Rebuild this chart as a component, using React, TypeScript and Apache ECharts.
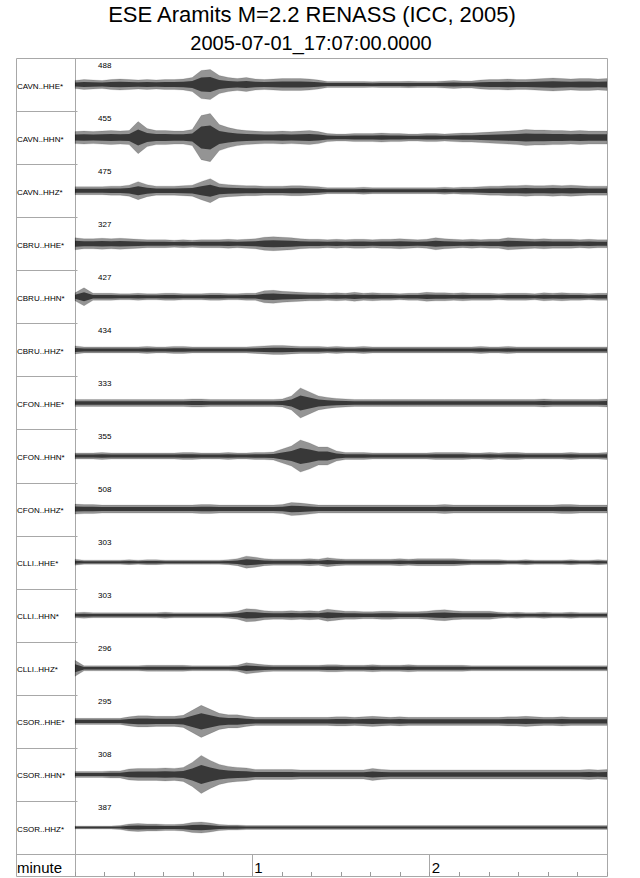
import React, { useEffect, useRef } from "react";
import * as echarts from "echarts";

const TITLE = "ESE Aramits M=2.2 RENASS (ICC, 2005)";
const SUBTITLE = "2005-07-01_17:07:00.0000";
const TIME_UNIT = "minute";

const stations = [
  "CAVN..HHE*", "CAVN..HHN*", "CAVN..HHZ*",
  "CBRU..HHE*", "CBRU..HHN*", "CBRU..HHZ*",
  "CFON..HHE*", "CFON..HHN*", "CFON..HHZ*",
  "CLLI..HHE*", "CLLI..HHN*", "CLLI..HHZ*",
  "CSOR..HHE*", "CSOR..HHN*", "CSOR..HHZ*",
];
const peakCounts = [488, 455, 475, 327, 427, 434, 333, 355, 508, 303, 303, 296, 295, 308, 387];

// Trace envelopes (half amplitude), one value per 3 s, 0 .. 180 s
const envCAVN_HHE = [4,5,4.5,4,5,5.5,5,4.5,5,4.5,5,5,5.5,7,14,15,9,7,6,7,5.5,5,5.5,6,6,6,5.5,4.5,3,3,3,3,3,2.8,3,3,3,3.2,3,3,3,3.5,4,3.5,3.5,4.5,5,5,5.5,5,5,5.5,6,6.5,6,5.5,6,6,5.5,6];
const envCAVN_HHN = [6,6.5,6,6.5,7,6.5,7,16,9,7,7,6.5,6.5,8,22,24,13,10,8,7,6.5,6,6,6.5,6,6.5,7,6,4,3.5,3.5,4,4,4,4.5,4,4,3.5,3.5,4,4,3.5,4,4.5,4.5,5,5.5,6,6.5,7,8,7.5,7.5,7,7,6.5,7,6.5,6.5,6.5];
const envCAVN_HHZ = [4,4,4,4,4.5,4.5,5.5,9,6,4.5,4.5,4.5,5,5.5,9,12,7,6,5.5,5,5,4.5,4.5,4.5,5,5,4.5,4,3,3,3,3,3.5,3,3,3,3,3,3,3,3,3.5,3,3.5,3.5,4,4.5,4.5,5,5,5.5,5,5,5.5,5,5.5,5,4.5,4.5,4.5];
const envCBRU_HHE = [6,5,5,5.5,5,5.5,5,4.5,4,4,4,3.5,4,3.5,4,4,4,4.5,4,4.5,5,6.5,7,6.5,6,5,4.5,4.5,4,4.5,4,4.5,4.5,4,4.5,4.5,5,4.5,4,4.5,6,5,4.5,4,4.5,4,4.5,4.5,6,5.5,5,4.5,5,4.5,4.5,4.5,4,4.5,4,4];
const envCBRU_HHN = [4,9,3.5,3.5,3.5,3,3,3.5,3,3,3.5,3.5,3,3,3,3.5,3.5,3,3,3.5,3.5,6,6.5,5.5,5,4.5,4,4,3.5,4,3.5,4.5,3.5,4,3.5,3.5,3,3.5,3.5,4.5,4,4,3.5,4,3.5,3.5,3.5,3,3.5,3.5,3.5,3,4,3.5,4,3.5,3.5,3,3.5,3.5];
const envCBRU_HHZ = [4,3,3,3,3,3,3,3,3.5,3,3,3.5,3.5,3,3,3,3,3,3,3,3.5,4,4.5,4.5,4,3.5,3.5,3.5,3,3.5,3,3,3.5,3,3,3,3,3,3,3,3,3,3,3,3,3.5,3,3,3.5,3,3,3,3,3,3,3,3,3,3,3];
const envCFON_HHE = [3.5,3.5,3.5,3.5,3.5,3.5,3.5,3.5,3.5,3.5,3.5,3.5,3.5,4,4,3.5,3.5,3.5,3.5,3.5,3.5,3.5,3.5,4,7,15,11,7,5.5,4.5,4,3.5,3.5,3.5,3.5,3.5,3.5,3.5,3.5,3.5,3.5,3.5,3.5,3.5,3.5,3.5,3.5,3.5,3.5,3.5,3.5,3.5,4,3.5,3.5,3.5,3.5,3.5,3.5,4];
const envCFON_HHN = [3,3,3,3.5,3,3,3,3,3,3,3,3,3.5,3.5,3,3,3,3.5,3,3,3.5,3.5,4,7,10,16,13,9,9,5,3.5,3.5,3.5,3,3,3,3,3,3,3,3.5,3.5,3.5,3.5,3,3,3.5,3,3.5,3.5,3,3,3,3,3,3.5,3,3,3,3.5];
const envCFON_HHZ = [5,4.5,4.5,4,4,4,4,4,4,4,4,4,4,4,4.5,4.5,4,4,4,4,4,4,4,4.5,6.5,6,5,4,4,4,4,4,4,4,4,4,4,4,4,4,4,4.5,4,4,4,4,4,4,4,4,4,4,4,4,4.5,4.5,4,4,4,4];
const envCLLI_HHE = [3,2,2,2,2,2,2.5,2,2.5,2.5,2,2,2,2,2,2,2,2.5,3.5,6,5,3.5,3,3,3,3,3.5,3,4.5,3.5,3,3,3,3,3,3,3.5,3,3.5,3.5,3.5,3.5,3.5,3,2.5,2.5,2.5,2.5,2,2,2.5,2,2,2,2,2.5,2,2,2.5,2];
const envCLLI_HHN = [2.5,3,2.5,2.5,2.5,2.5,2.5,2.5,2.5,2.5,3,2.5,2.5,2.5,2.5,2.5,2.5,3,4,6.5,6,4.5,4,4,4.5,4,4.5,4,6,5,4,4,3.5,3.5,4,4,3.5,3.5,3.5,4,5,5.5,4.5,4,4,4,4,3,2.5,3,2.5,2.5,3,2.5,2.5,3,2.5,2.5,2.5,2.5];
const envCLLI_HHZ = [8,2.5,2.5,2.5,2.5,2.5,2.5,2.5,3,3,3,3,3,2.5,2.5,2.5,2.5,2.5,3,5.5,4.5,3.5,3,3,3,3,3,3,3.5,3.5,3,3,3,3.5,3,3,3,3.5,3,3,3,3,3,3,2.5,2.5,2.5,2.5,2.5,2.5,2.5,2.5,2.5,2.5,2.5,2.5,2.5,2.5,2.5,2.5];
const envCSOR_HHE = [3,3,3,3,3,3,4.5,5.5,5.5,5,5,5,6,11,16,12,8,6.5,6.5,5,4,4,4,4,4,4,4,4,4,4.5,4.5,4,4.5,5,4.5,4,4.5,4,4,4,4,4,4,4,4,4,4,4,4.5,4.5,5,4.5,4,4,4.5,4,4,4,4,4];
const envCSOR_HHN = [3,3,3,3,3.5,3.5,5.5,6,6,6,6.5,6,7,12,19,14,10,8,7,6.5,5,5,5,5,5,4.5,4.5,4.5,4.5,4.5,4.5,4.5,4.5,6,5,4.5,4.5,4.5,4.5,4.5,4.5,4.5,4.5,4.5,4.5,4.5,4.5,4.5,4.5,4.5,4.5,4.5,4.5,4.5,4.5,4.5,4.5,5,4.5,5];
const envCSOR_HHZ = [1.5,1.5,1.5,1.5,1.5,2,3.5,4,3.5,3.5,3,3,3.5,5,5.5,4.5,3,2.5,2.5,2,2,2,2,2,2,2,2,2,2,2,2,2,2,2,2,2,2,2,2,2,2,2,2,2,2,2,2,2,2,2,2,2,2,2,2,2,2,2,2,2];

const envelopes = [
  envCAVN_HHE, envCAVN_HHN, envCAVN_HHZ,
  envCBRU_HHE, envCBRU_HHN, envCBRU_HHZ,
  envCFON_HHE, envCFON_HHN, envCFON_HHZ,
  envCLLI_HHE, envCLLI_HHN, envCLLI_HHZ,
  envCSOR_HHE, envCSOR_HHN, envCSOR_HHZ,
];

const DURATION_S = 180;
const minuteTicks: Record<number, string> = { 60: "1", 120: "2" };

const FONT = "Liberation Sans, Arial, Helvetica, sans-serif";
const BORDER = "#a8a8a8";

export default function App() {
  const ref = useRef<HTMLDivElement>(null);

  useEffect(() => {
    if (!ref.current) return;
    const chart = echarts.init(ref.current, null, { renderer: "svg" });

    const LEFT = 16;
    const LABEL_RIGHT = 75;
    const RIGHT = 607;
    const TOP = 58;
    const ROW_H = 53.07;
    const n = stations.length;
    const traceBottom = TOP + n * ROW_H;
    const BOTTOM = 876;

    const grids: any[] = [];
    const xAxes: any[] = [];
    const yAxes: any[] = [];
    const series: any[] = [];

    envelopes.forEach((env, i) => {
      grids.push({ left: LABEL_RIGHT, width: RIGHT - LABEL_RIGHT, top: TOP + i * ROW_H, height: ROW_H });
      xAxes.push({ gridIndex: i, type: "value", min: 0, max: DURATION_S, show: false });
      yAxes.push({ gridIndex: i, type: "value", min: -26.5, max: 26.5, show: false });
      const step = DURATION_S / (env.length - 1);
      const samples = env.map((a, k) => [k * step, a]);
      series.push({
        type: "custom",
        xAxisIndex: i,
        yAxisIndex: i,
        silent: true,
        data: samples,
        renderItem: (params: any, api: any) => {
          if (params.dataIndex !== 0) return null;
          const band = (f: number) => {
            const upper = samples.map(([t, a]) => api.coord([t, a * f]));
            const lower = samples.map(([t, a]) => api.coord([t, -a * f])).reverse();
            return upper.concat(lower);
          };
          return {
            type: "group",
            children: [
              {
                type: "polygon",
                shape: { points: band(1) },
                style: { fill: "rgba(0,0,0,0.42)", stroke: "rgba(0,0,0,0.3)", lineWidth: 0.4 },
              },
              {
                type: "polygon",
                shape: { points: band(0.5) },
                style: { fill: "rgba(0,0,0,0.62)", stroke: "none" },
              },
            ],
          };
        },
      });
    });

    const mi = n;
    grids.push({ left: LABEL_RIGHT, width: RIGHT - LABEL_RIGHT, top: traceBottom, height: BOTTOM - traceBottom });
    xAxes.push({
      gridIndex: mi, type: "value", min: 0, max: DURATION_S, interval: 10, position: "bottom",
      axisLine: { show: false },
      axisTick: { show: true, inside: true, length: 4, lineStyle: { color: "#999", width: 1 } },
      axisLabel: { show: false },
      splitLine: { show: false },
    });
    xAxes.push({
      gridIndex: mi, type: "value", min: 0, max: DURATION_S, interval: 60, position: "bottom",
      axisLine: { show: false },
      axisTick: { show: false },
      splitLine: { show: true, lineStyle: { color: BORDER, width: 1 } },
      axisLabel: {
        show: true, inside: true, margin: 9, align: "left", verticalAlign: "middle",
        padding: [0, 0, 0, 2], fontSize: 15, color: "#000", fontFamily: FONT,
        formatter: (v: number) => minuteTicks[v] || "",
      },
    });
    yAxes.push({ gridIndex: mi, type: "value", min: 0, max: 1, show: false });

    const graphics: any[] = [];
    const line = (x1: number, y1: number, x2: number, y2: number) => ({
      type: "line", silent: true,
      shape: { x1, y1, x2, y2 },
      style: { stroke: BORDER, lineWidth: 1 },
    });
    const text = (x: number, y: number, t: string, size: number, align = "left") => ({
      type: "text", x, y, silent: true,
      style: {
        text: t, fontSize: size, fontFamily: FONT, fill: "#000",
        align, verticalAlign: "middle", textAlign: align, textVerticalAlign: "middle",
      },
    });

    graphics.push(text(312, 14, TITLE, 22, "center"));
    graphics.push(text(311, 43, SUBTITLE, 20, "center"));

    graphics.push(line(LEFT + 0.5, TOP + 0.5, RIGHT + 0.5, TOP + 0.5));
    graphics.push(line(LEFT + 0.5, TOP + 0.5, LEFT + 0.5, BOTTOM + 0.5));
    graphics.push(line(RIGHT + 0.5, TOP + 0.5, RIGHT + 0.5, BOTTOM + 0.5));
    graphics.push(line(LEFT + 0.5, BOTTOM + 0.5, RIGHT + 0.5, BOTTOM + 0.5));
    graphics.push(line(LABEL_RIGHT + 0.5, TOP + 0.5, LABEL_RIGHT + 0.5, BOTTOM + 0.5));
    graphics.push(line(LEFT + 0.5, Math.round(traceBottom) + 0.5, RIGHT + 0.5, Math.round(traceBottom) + 0.5));
    for (let i = 1; i < n; i++) {
      const y = Math.round(TOP + i * ROW_H) + 0.5;
      graphics.push(line(LEFT + 0.5, y, LABEL_RIGHT + 0.5, y));
      graphics.push(line(LABEL_RIGHT + 0.5, y, LABEL_RIGHT + 2.5, y));
    }
    stations.forEach((s, i) => {
      const top = TOP + i * ROW_H;
      graphics.push(text(17, top + ROW_H / 2 + 1.5, s, 8));
      graphics.push(text(98, top + 7, String(peakCounts[i]), 8));
    });
    graphics.push(text(17, 867, TIME_UNIT, 15));

    chart.setOption({
      animation: false,
      backgroundColor: "#fff",
      grid: grids,
      xAxis: xAxes,
      yAxis: yAxes,
      series,
      graphic: { elements: graphics },
    });

    return () => chart.dispose();
  }, []);

  return (
    <div
      ref={ref}
      style={{ position: "fixed", left: 0, top: 0, width: 640, height: 878, background: "#fff" }}
    />
  );
}
